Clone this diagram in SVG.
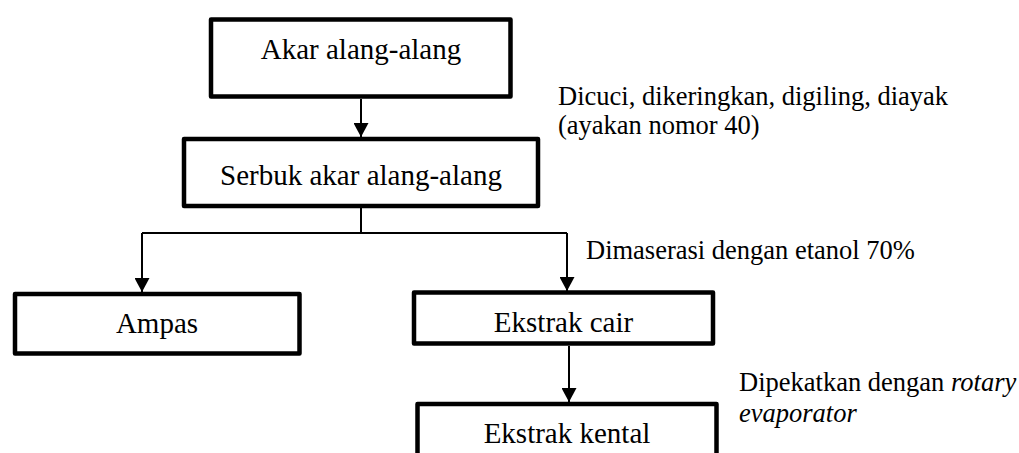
<svg xmlns="http://www.w3.org/2000/svg" width="1019" height="453" viewBox="0 0 1019 453">
<defs>
<style>
.box{fill:#fff;stroke:#000;stroke-width:4.5;stroke-linejoin:round}
.lbl{font-size:29px;fill:#000;text-anchor:middle}
.note{font-size:26.5px;fill:#000}
.ln{fill:none;stroke:#000;stroke-width:2}
</style>
<marker id="ah" markerUnits="userSpaceOnUse" markerWidth="14" markerHeight="15" viewBox="0 0 14 15" refX="14" refY="7.5" orient="auto">
<path d="M0,0 L14,7.5 L0,15 Z" fill="#000"/>
</marker>
</defs>
<rect width="1019" height="453" fill="#fff"/>
<g id="connectors">
<line class="ln" x1="361" y1="99" x2="361" y2="137" marker-end="url(#ah)"/>
<polyline class="ln" points="361,208 361,233"/>
<polyline class="ln" points="142,233 567,233"/>
<line class="ln" x1="142" y1="233" x2="142" y2="292" marker-end="url(#ah)"/>
<line class="ln" x1="567" y1="233" x2="567" y2="291" marker-end="url(#ah)"/>
<line class="ln" x1="569" y1="346" x2="569" y2="402" marker-end="url(#ah)"/>
</g>
<g font-family="'Liberation Serif', 'Times New Roman', serif">
<g id="node-akar">
<rect class="box" x="211" y="19.5" width="299.5" height="77"/>
<text class="lbl" x="361" y="59">Akar alang-alang</text>
</g>
<g id="node-serbuk">
<rect class="box" x="184" y="139" width="354" height="67"/>
<text class="lbl" x="361" y="185">Serbuk akar alang-alang</text>
</g>
<g id="node-ampas">
<rect class="box" x="15" y="294" width="284.5" height="59.5"/>
<text class="lbl" x="157" y="333">Ampas</text>
</g>
<g id="node-cair">
<rect class="box" x="414" y="292.5" width="299" height="51"/>
<text class="lbl" x="563.5" y="332">Ekstrak cair</text>
</g>
<g id="node-kental">
<rect class="box" x="417.5" y="404" width="299" height="70"/>
<text class="lbl" x="567" y="443">Ekstrak kental</text>
</g>
<g id="notes">
<text class="note" x="558" y="105">Dicuci, dikeringkan, digiling, diayak</text>
<text class="note" x="558" y="134">(ayakan nomor 40)</text>
<text class="note" x="586" y="259">Dimaserasi dengan etanol 70%</text>
<text class="note" x="739" y="391">Dipekatkan dengan <tspan font-style="italic">rotary</tspan></text>
<text class="note" x="739" y="422" font-style="italic">evaporator</text>
</g>
</g>
</svg>
